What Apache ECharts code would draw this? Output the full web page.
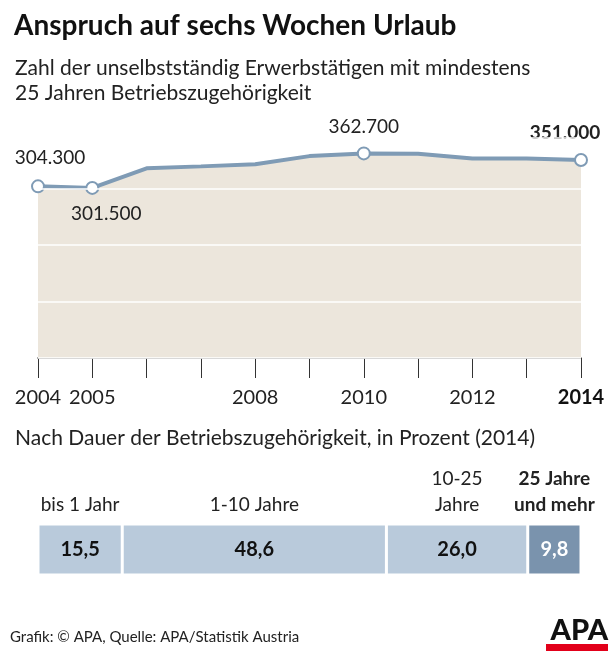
<!DOCTYPE html>
<html><head><meta charset="utf-8">
<script src="https://cdn.jsdelivr.net/npm/echarts@6/dist/echarts.min.js"></script>
<style>html,body{margin:0;padding:0;background:#fff}#c{width:616px;height:658px}</style>
</head><body><div id="c"></div>
<script>
const years = ['2004','2005','2006','2007','2008','2009','2010','2011','2012','2013','2014'];
const shownYears = ['2004','2005','2008','2010','2012','2014'];
const workers = [304300, 301500, 336200, 339700, 343500, 357900, 362700, 362200, 353500, 353500, 351000];
const labeledYears = ['2004','2005','2010','2014'];
const pointLabels = {'2004':'304.300','2005':'301.500','2010':'362.700','2014':'351.000'};
const durCats = ['bis 1 Jahr','1-10 Jahre','10-25\nJahre','25 Jahre\nund mehr'];
const durVals = [15.5, 48.6, 26.0, 9.8];
const durLabels = ['15,5','48,6','26,0','9,8'];

const F = 'Lato, "Open Sans", sans-serif';
const chart = echarts.init(document.getElementById('c'));
const labelPos = {'2004':[12,-28],'2005':[14,26],'2010':[0,-27],'2014':[-16,-27]};
const lineData = workers.map((v,i)=>{
  const y = years[i];
  if (labeledYears.includes(y)) {
    return {value:v, symbol:'circle', symbolSize:12,
      label:{show:true, formatter:pointLabels[y], offset:labelPos[y], position:'inside',
        fontSize:19, fontFamily:F, color:'#222', fontWeight: y==='2014'?'bold':'normal'}};
  }
  return {value:v, symbol:'none'};
});
const barSeries = [];
const barColors = ['#b9cadb','#b9cadb','#b9cadb','#7a93ad'];
durVals.forEach((v,i)=>{
  barSeries.push({type:'bar', xAxisIndex:1, yAxisIndex:1, stack:'a', data:[v], barWidth:51,
    itemStyle:{color:barColors[i], borderColor:'#fff', borderWidth:1.5},
    label:{show:true, position:'inside', formatter:durLabels[i], fontFamily:F, fontWeight:'bold',
      fontSize:20, color: i===3?'#fff':'#111'}});
  barSeries.push({type:'bar', xAxisIndex:1, yAxisIndex:1, stack:'b', data:[v], barWidth:51, barGap:'-100%',
    itemStyle:{color:'transparent'}, silent:true,
    label:{show:true, position:'top', distance:6, formatter:durCats[i], fontFamily:F, fontSize:19, lineHeight:26,
      color:'#222', fontWeight: i===3?'bold':'normal'}});
});

chart.setOption({
  animation:false,
  graphic:[
    {type:'text', left:14, top:12, style:{text:'Anspruch auf sechs Wochen Urlaub', font:'bold 28px '+F, fill:'#111'}},
    {type:'text', left:15, top:56, style:{text:'Zahl der unselbstständig Erwerbstätigen mit mindestens\n25 Jahren Betriebszugehörigkeit', font:'21px '+F, lineHeight:25, fill:'#222'}},
    {type:'text', left:15, top:428, style:{text:'Nach Dauer der Betriebszugehörigkeit, in Prozent (2014)', font:'21px '+F, fill:'#222'}},
    {type:'text', left:10, top:630, style:{text:'Grafik: © APA, Quelle: APA/Statistik Austria', font:'15px '+F, fill:'#222'}},
    {type:'text', right:8, top:616, style:{text:'APA', font:'900 29px '+F, fill:'#111'}},
    {type:'rect', right:8, top:644, shape:{width:62, height:7}, style:{fill:'#e2001a'}}
  ],
  grid:[
    {left:38, right:35, top:138, height:220},
    {left:38, right:35, top:524, height:51}
  ],
  xAxis:[
    {type:'category', data:years, boundaryGap:false, gridIndex:0,
      axisLine:{lineStyle:{color:'#333', width:1.5}},
      axisTick:{show:true, length:20, interval:0, lineStyle:{color:'#333'}},
      axisLabel:{interval:0, margin:30, fontFamily:F, fontSize:20, color:'#222',
        formatter:v=> v==='2014' ? '{b|2014}' : (shownYears.includes(v)?v:''),
        rich:{b:{fontWeight:'bold', fontSize:20, fontFamily:F, color:'#111'}}}},
    {type:'value', gridIndex:1, min:0, max:99.9, show:false}
  ],
  yAxis:[
    {type:'value', gridIndex:0, min:0, max:390000, interval:100000,
      axisLabel:{show:false}, axisLine:{show:false}, axisTick:{show:false},
      splitLine:{show:true, lineStyle:{color:'#fff', width:1.5}}, z:3},
    {type:'category', gridIndex:1, data:['2014'], show:false}
  ],
  series:[
    {type:'line', data:lineData, xAxisIndex:0, yAxisIndex:0, showSymbol:true,
      lineStyle:{color:'#7f9bb5', width:4}, itemStyle:{color:'#fff', borderColor:'#7f9bb5', borderWidth:2},
      areaStyle:{color:'#ece6dc', opacity:1}, z:2}
  ].concat(barSeries)
});
</script></body></html>
